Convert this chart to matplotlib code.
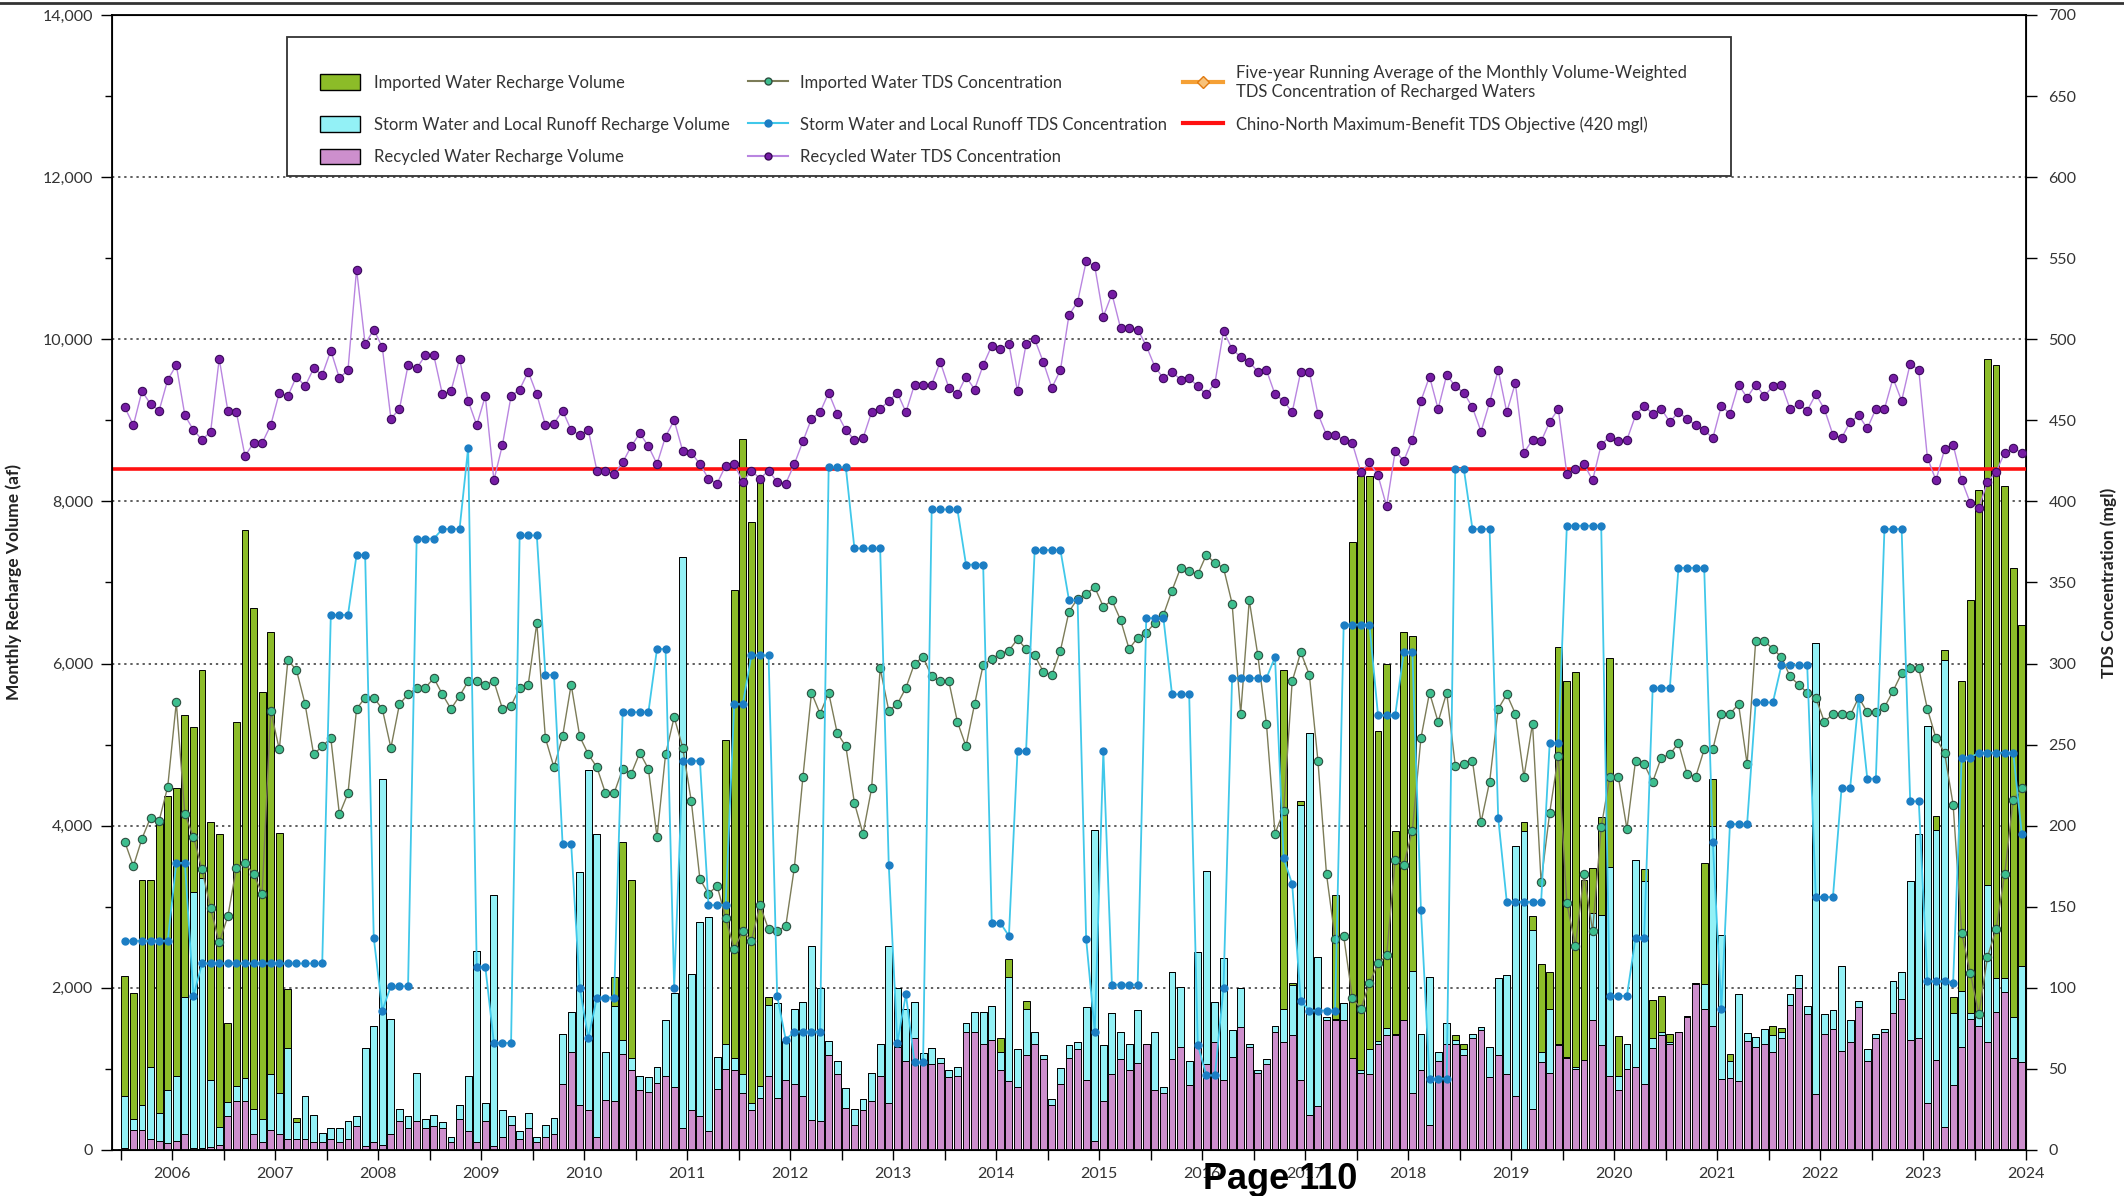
import numpy as np
import matplotlib
matplotlib.use('Agg')
import matplotlib.pyplot as plt
from matplotlib.lines import Line2D
from matplotlib.patches import Patch, Rectangle
from matplotlib.legend import Legend
from matplotlib.ticker import FuncFormatter, MultipleLocator

plt.rcParams['font.family'] = ['Lato', 'DejaVu Sans']

# monthly values Jul 2005 - Dec 2023 (first row = Jul-Dec 2005, then one row per year)
recycled = [30, 250, 240, 140, 108, 86,
            115, 200, 20, 30, 40, 60, 420, 610, 610, 200, 93, 250,
            200, 130, 130, 130, 93, 93, 130, 93, 130, 300, 43, 93,
            57, 200, 358, 272, 358, 272, 294, 272, 93, 380, 237, 93,
            358, 43, 165, 308, 130, 272, 93, 165, 200, 810, 1205, 560,
            488, 165, 617, 609, 1183, 990, 738, 717, 832, 918, 774, 272,
            488, 416, 237, 753, 1004, 990, 703, 488, 645, 918, 645, 860,
            810, 667, 366, 358, 1169, 939, 523, 308, 488, 609, 918, 574,
            1276, 1097, 1384, 1097, 1061, 1075, 896, 918, 1455, 1455, 1312, 1362,
            990, 846, 774, 1169, 1312, 1118, 560, 810, 1133, 1240, 860, 115,
            609, 939, 1118, 990, 1075, 1312, 738, 703, 1118, 1276, 796, 1276,
            1061, 1334, 860, 1147, 1513, 1276, 946, 1061, 1455, 1334, 1420, 860,
            430, 538, 1599, 1599, 1599, 1133, 954, 939, 1312, 1420, 1420, 1599,
            703, 990, 308, 1097, 1312, 1312, 1169, 1384, 1477, 896, 1169, 939,
            667, 0, 509, 1083, 954, 1290, 1133, 1004, 1111, 1599, 1290, 918,
            738, 1004, 1025, 810, 1262, 1420, 1312, 1455, 1635, 2043, 1742, 1527,
            875, 882, 846, 1348, 1276, 1312, 1205, 1384, 1793, 1993, 1671, 688,
            1434, 1491, 1226, 1334, 1764, 1097, 1384, 1455, 1685, 1864, 1362, 1384,
            581, 1111, 287, 796, 1276, 1613, 1527, 1326, 1706, 1943, 1133, 1083]

storm = [637, 133, 320, 885, 342, 654,
         803, 1685, 3156, 3326, 820, 227, 175, 179, 272, 309, 287, 689,
         503, 1125, 214, 537, 337, 122, 142, 179, 228, 116, 1219, 1441,
         4518, 1420, 151, 144, 596, 108, 136, 72, 72, 180, 681, 2366,
         222, 3097, 323, 108, 107, 180, 72, 143, 200, 624, 501, 2867,
         4194, 3728, 588, 1169, 179, 143, 180, 186, 193, 681, 1162, 7041,
         1685, 2395, 2631, 394, 308, 143, 229, 86, 144, 875, 1169, 488,
         932, 1161, 2144, 1635, 179, 158, 237, 194, 143, 345, 394, 1936,
         717, 645, 444, 93, 194, 58, 93, 107, 108, 251, 394, 416,
         215, 1291, 466, 573, 143, 51, 71, 201, 165, 94, 904, 3829,
         682, 746, 337, 322, 646, 0, 717, 71, 1076, 732, 301, 1169,
         2381, 494, 1513, 330, 480, 36, 43, 57, 72, 408, 609, 3392,
         4718, 1842, 40, 14, 215, 0, 35, 301, 36, 86, 14, 0,
         1505, 444, 1829, 108, 251, 50, 71, 50, 36, 380, 953, 1219,
         3083, 3929, 2201, 122, 788, 22, 14, 21, 0, 1326, 1614, 2567,
         180, 308, 2546, 2510, 122, 35, 22, 0, 14, 22, 301, 2474,
         1778, 215, 1076, 93, 122, 179, 215, 71, 129, 165, 107, 5571,
         237, 230, 1040, 265, 71, 143, 50, 36, 401, 330, 1958, 2509,
         4653, 2833, 5757, 889, 681, 72, 144, 1936, 416, 179, 502, 1183]

imported = [1483, 1552, 2774, 2309, 3600, 3620,
            3549, 3478, 2044, 2559, 3190, 3606, 968, 4488, 6761, 6173, 5263, 5449,
            3205, 731, 50, 0, 0, 0, 0, 0, 0, 0, 0, 0,
            0, 0, 0, 0, 0, 0, 0, 0, 0, 0, 0, 0,
            0, 0, 0, 0, 0, 0, 0, 0, 0, 0, 0, 0,
            0, 0, 0, 359, 2438, 2201, 0, 0, 0, 0, 0, 0,
            0, 0, 0, 0, 3743, 5772, 7837, 7170, 7528, 93, 0, 0,
            0, 0, 0, 0, 0, 0, 0, 0, 0, 0, 0, 0,
            0, 0, 0, 0, 0, 0, 0, 0, 0, 0, 0, 0,
            179, 215, 0, 93, 0, 0, 0, 0, 0, 0, 0, 0,
            0, 0, 0, 0, 0, 0, 0, 0, 0, 0, 0, 0,
            0, 0, 0, 0, 0, 0, 0, 0, 0, 4173, 36, 50,
            0, 0, 0, 1527, 0, 6367, 7328, 7077, 3814, 4488, 2495, 4789,
            4137, 0, 0, 0, 0, 58, 72, 0, 0, 0, 0, 0,
            0, 121, 180, 1089, 452, 4897, 4632, 4876, 2223, 552, 1204, 2581,
            487, 0, 0, 143, 466, 445, 100, 0, 0, 0, 1492, 574,
            0, 86, 0, 0, 0, 0, 107, 51, 0, 0, 0, 0,
            0, 0, 0, 0, 0, 0, 0, 0, 0, 0, 0, 0,
            0, 179, 122, 201, 3822, 5098, 6474, 6489, 7557, 6073, 5542, 4208]

imported_tds = [190, 175, 192, 205, 203, 224,
                276, 207, 193, 173, 149, 128, 144, 174, 177, 170, 158, 271,
                247, 302, 296, 275, 244, 249, 254, 207, 220, 272, 279, 279,
                272, 248, 275, 281, 285, 285, 291, 281, 272, 280, 289, 289,
                287, 289, 272, 274, 285, 287, 325, 254, 236, 255, 287, 255,
                244, 236, 220, 220, 235, 232, 245, 235, 193, 244, 267, 248,
                215, 167, 158, 163, 143, 124, 135, 129, 151, 136, 135, 138,
                174, 230, 282, 269, 282, 257, 249, 214, 195, 223, 297, 271,
                275, 285, 300, 304, 292, 289, 289, 264, 249, 275, 299, 303,
                306, 308, 315, 309, 305, 295, 293, 308, 332, 340, 343, 347,
                335, 339, 327, 309, 316, 319, 325, 330, 345, 359, 357, 355,
                367, 362, 359, 337, 269, 339, 305, 263, 195, 209, 289, 307,
                293, 240, 170, 130, 132, 94, 87, 103, 115, 120, 179, 176,
                197, 254, 282, 264, 282, 237, 238, 240, 202, 227, 272, 281,
                269, 230, 263, 165, 208, 243, 152, 126, 170, 135, 199, 230,
                230, 198, 240, 238, 227, 242, 244, 251, 232, 230, 247, 247,
                269, 269, 275, 238, 314, 314, 309, 304, 292, 287, 282, 279,
                264, 269, 269, 268, 279, 270, 270, 273, 283, 294, 297, 297,
                272, 254, 245, 213, 134, 109, 84, 119, 136, 170, 216, 223]

storm_tds = [129, 129, 129, 129, 129, 129,
             177, 177, 95, 115, 115, 115, 115, 115, 115, 115, 115, 115,
             115, 115, 115, 115, 115, 115, 330, 330, 330, 367, 367, 131,
             86, 101, 101, 101, 377, 377, 377, 383, 383, 383, 433, 113,
             113, 66, 66, 66, 379, 379, 379, 293, 293, 189, 189, 100,
             69, 94, 94, 94, 270, 270, 270, 270, 309, 309, 100, 240,
             240, 240, 151, 151, 151, 275, 275, 305, 305, 305, 95, 68,
             73, 73, 73, 73, 421, 421, 421, 371, 371, 371, 371, 176,
             66, 96, 54, 54, 395, 395, 395, 395, 361, 361, 361, 140,
             140, 132, 246, 246, 370, 370, 370, 370, 339, 339, 130, 73,
             246, 102, 102, 102, 102, 328, 328, 328, 281, 281, 281, 65,
             46, 46, 100, 291, 291, 291, 291, 291, 304, 180, 164, 92,
             86, 86, 86, 86, 324, 324, 324, 324, 268, 268, 268, 307,
             307, 148, 44, 44, 44, 420, 420, 383, 383, 383, 205, 153,
             153, 153, 153, 153, 251, 251, 385, 385, 385, 385, 385, 95,
             95, 95, 131, 131, 285, 285, 285, 359, 359, 359, 359, 190,
             87, 201, 201, 201, 276, 276, 276, 299, 299, 299, 299, 156,
             156, 156, 223, 223, 279, 229, 229, 383, 383, 383, 215, 215,
             104, 104, 104, 103, 242, 242, 245, 245, 245, 245, 245, 195]

recycled_tds = [458, 447, 468, 460, 456, 475,
                484, 453, 444, 438, 443, 488, 456, 455, 428, 436, 436, 447,
                467, 465, 477, 471, 482, 478, 493, 476, 481, 543, 497, 506,
                495, 451, 457, 484, 482, 490, 490, 466, 468, 488, 462, 447,
                465, 413, 435, 465, 469, 480, 466, 447, 448, 456, 444, 441,
                444, 419, 419, 417, 424, 434, 442, 434, 423, 440, 450, 431,
                430, 423, 414, 411, 422, 423, 412, 419, 414, 419, 412, 411,
                423, 437, 451, 455, 467, 454, 444, 438, 439, 455, 457, 462,
                467, 455, 472, 472, 472, 486, 470, 466, 477, 469, 484, 496,
                494, 497, 468, 497, 500, 486, 470, 481, 515, 523, 548, 545,
                514, 528, 507, 507, 506, 496, 483, 476, 480, 475, 476, 471,
                466, 473, 505, 494, 489, 486, 480, 481, 466, 462, 455, 480,
                480, 454, 441, 441, 438, 436, 418, 424, 416, 397, 431, 425,
                438, 462, 477, 457, 478, 471, 467, 458, 443, 461, 481, 455,
                473, 430, 438, 437, 449, 457, 417, 420, 423, 413, 435, 440,
                437, 438, 453, 459, 454, 457, 449, 455, 451, 447, 444, 439,
                459, 454, 472, 464, 472, 465, 471, 472, 457, 460, 456, 466,
                457, 441, 439, 449, 453, 445, 457, 457, 476, 462, 485, 481,
                427, 413, 432, 435, 413, 399, 396, 412, 418, 430, 433, 430]

objective = 420
years = list(range(2006, 2025))

# colours
c_green = '#8CBC28'
c_cyan = '#93F1F6'
c_pink = '#CD8FCD'
c_imp_line, c_imp_face = '#7C7C58', '#3DBE8E'
c_storm_line, c_storm_face = '#40C8EA', '#1C7EC4'
c_rec_line, c_rec_face = '#B985E0', '#761CA4'

fig = plt.figure(figsize=(21.24, 11.96), dpi=100)
ax = fig.add_axes([0.0529, 0.0385, 0.901, 0.949])

n = len(recycled)
x = np.arange(n) + 0.5
rec = np.array(recycled)
stm = np.array(storm)
imp = np.array(imported)

bw = 0.8
ax.bar(x, rec, width=bw, color=c_pink, edgecolor='black', linewidth=0.7, zorder=2)
ax.bar(x, stm, bottom=rec, width=bw, color=c_cyan, edgecolor='black', linewidth=0.7, zorder=2)
ax.bar(x, imp, bottom=rec + stm, width=bw, color=c_green, edgecolor='black', linewidth=0.7, zorder=2)

ax.set_xlim(-0.95, n)
ax.set_ylim(0, 14000)
ax.yaxis.set_major_locator(MultipleLocator(2000))
ax.yaxis.set_minor_locator(MultipleLocator(1000))
ax.yaxis.set_major_formatter(FuncFormatter(lambda v, p: f'{int(v):,}'))
ax.yaxis.grid(True, which='major', linestyle=(0, (1.5, 2.5)), color='#333333', linewidth=1.1)
ax.set_axisbelow(True)

year_pos = [6 + 12 * (y - 2006) for y in years]
ax.set_xticks(year_pos)
ax.set_xticklabels([str(y) for y in years])
ax.set_xticks(np.arange(0, n + 1, 12), minor=True)
ax.tick_params(axis='x', which='both', length=7, width=1, pad=5, labelsize=11.5, labelcolor='#333333')
ax.tick_params(axis='y', which='major', length=8, width=1, pad=6, labelsize=11.5, labelcolor='#333333')
ax.tick_params(axis='y', which='minor', length=5, width=1)
for s in ax.spines.values():
    s.set_linewidth(1.3)

ax.set_ylabel('Monthly Recharge Volume (af)', fontsize=12.5, fontweight='bold', color='#222222')
ax.yaxis.set_label_coords(-0.047, 0.5)

ax2 = ax.twinx()
ax2.set_ylim(0, 700)
ax2.yaxis.set_major_locator(MultipleLocator(50))
ax2.tick_params(axis='y', length=8, width=1, pad=8, labelsize=11.5, labelcolor='#333333')
ax2.set_ylabel('TDS Concentration (mgl)', fontsize=12.5, fontweight='bold', color='#222222')
ax2.yaxis.set_label_coords(1.039, 0.5)

ax2.axhline(objective, color='#FF1010', linewidth=2.6, zorder=2)
ax2.plot(x, imported_tds, color=c_imp_line, linewidth=1.0, marker='o', markersize=6,
         markerfacecolor=c_imp_face, markeredgecolor='#2D4F40', markeredgewidth=0.8, zorder=3)
ax2.plot(x, storm_tds, color=c_storm_line, linewidth=1.3, marker='o', markersize=5,
         markerfacecolor=c_storm_face, markeredgecolor=c_storm_face, zorder=4)
ax2.plot(x, recycled_tds, color=c_rec_line, linewidth=1.0, marker='o', markersize=6,
         markerfacecolor=c_rec_face, markeredgecolor='#3A0A5A', markeredgewidth=0.8, zorder=5)

# legend box
frame = Rectangle((0.0912, 0.858), 0.846 - 0.0912, 0.9806 - 0.858, transform=ax2.transAxes,
                  facecolor='white', edgecolor='#333333', linewidth=1.3, zorder=10)
ax2.add_patch(frame)

h_imp_bar = Patch(facecolor=c_green, edgecolor='black')
h_stm_bar = Patch(facecolor=c_cyan, edgecolor='black')
h_rec_bar = Patch(facecolor=c_pink, edgecolor='black')
h_imp_line = Line2D([], [], color=c_imp_line, marker='o', markersize=5, markerfacecolor=c_imp_face,
                    markeredgecolor='#2D4F40')
h_stm_line = Line2D([], [], color=c_storm_line, marker='o', markersize=5, markerfacecolor=c_storm_face,
                    markeredgecolor=c_storm_face)
h_rec_line = Line2D([], [], color=c_rec_line, marker='o', markersize=5, markerfacecolor=c_rec_face,
                    markeredgecolor='#3A0A5A')
h_avg = Line2D([], [], color='#F5A035', linewidth=3, marker='D', markersize=6,
               markerfacecolor='#F8C27A', markeredgecolor='#E07A10')
h_obj = Line2D([], [], color='#FF1010', linewidth=3)

col_x = [0.1085, 0.3322, 0.5595]
row_y = [0.9404, 0.9034, 0.8748]
entries = [(h_imp_bar, 'Imported Water Recharge Volume', 0, 0),
           (h_stm_bar, 'Storm Water and Local Runoff Recharge Volume', 0, 1),
           (h_rec_bar, 'Recycled Water Recharge Volume', 0, 2),
           (h_imp_line, 'Imported Water TDS Concentration', 1, 0),
           (h_stm_line, 'Storm Water and Local Runoff TDS Concentration', 1, 1),
           (h_rec_line, 'Recycled Water TDS Concentration', 1, 2),
           (h_avg, 'Five-year Running Average of the Monthly Volume-Weighted\n'
                   'TDS Concentration of Recharged Waters', 2, 0),
           (h_obj, 'Chino-North Maximum-Benefit TDS Objective (420 mgl)', 2, 1)]
pads = [0.85, 0.7, 0.75]

for h, l, c, r in entries:
    leg = Legend(ax2, [h], [l], loc='center left', bbox_to_anchor=(col_x[c], row_y[r]),
                 bbox_transform=ax2.transAxes, frameon=False, fontsize=12, borderpad=0,
                 borderaxespad=0, handlelength=2.4, handleheight=1.05, handletextpad=pads[c],
                 labelcolor='#333333')
    leg.set_zorder(11)
    ax2.add_artist(leg)

# page border and page number
fig.add_artist(Line2D([0, 1], [0.9975, 0.9975], transform=fig.transFigure, color='#333333', linewidth=2))
fig.text(0.6026, 0.006, 'Page 110', ha='center', va='baseline', fontsize=26, fontweight='bold',
         family=['Liberation Sans', 'DejaVu Sans'], color='black')

fig.savefig('out.png', dpi=100)
